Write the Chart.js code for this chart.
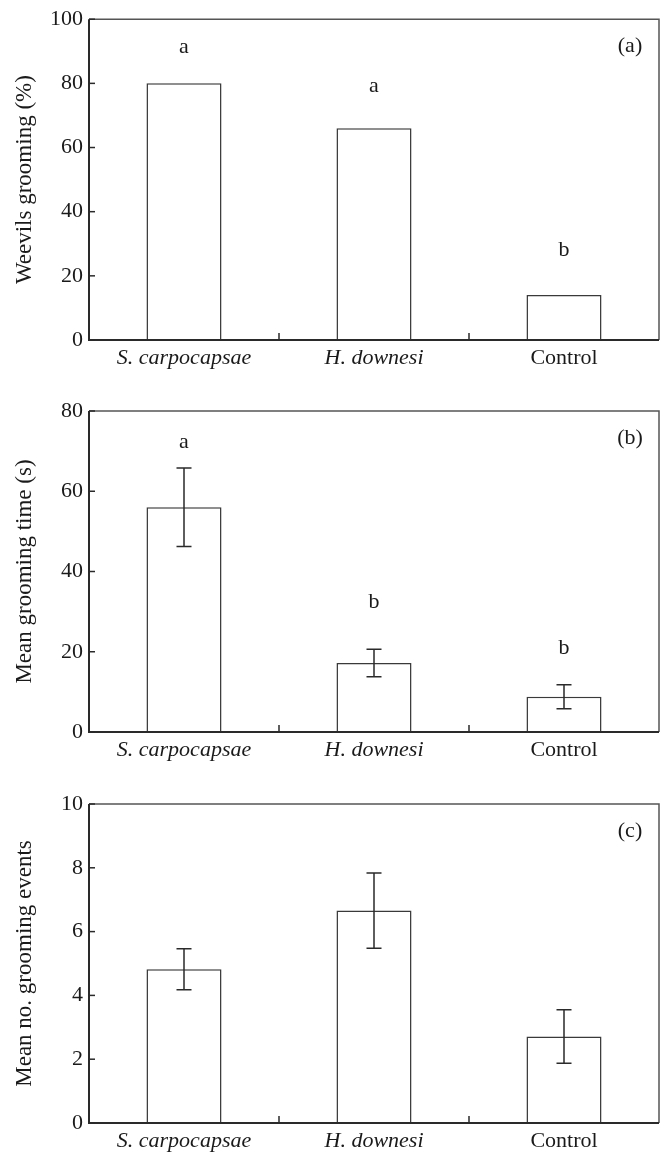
<!DOCTYPE html>
<html>
<head>
<meta charset="utf-8">
<script src="https://cdn.jsdelivr.net/npm/chart.js@4"></script>
<style>
  body { margin: 0; background: #fff; }
  .panel { position: absolute; left: 0; width: 664px; height: 384px; }
</style>
</head>
<body>
<div class="panel" style="top:0"><canvas id="chartA" width="664" height="384"></canvas></div>
<div class="panel" style="top:384px"><canvas id="chartB" width="664" height="384"></canvas></div>
<div class="panel" style="top:768px"><canvas id="chartC" width="664" height="384"></canvas></div>
<script>
const categories = ['S. carpocapsae', 'H. downesi', 'Control'];

// (a) weevils grooming (%)
const percentGrooming = [80, 66, 14];
const lettersA = ['a', 'a', 'b'];
const letterLevelsA = [91.4, 79, 27.9];

// (b) mean grooming time (s), +/- SE
const groomingTime = [56, 17.2, 8.8];
const groomingTimeErr = [9.8, 3.4, 3.0];
const lettersB = ['a', 'b', 'b'];
const letterLevelsB = [72.3, 32.3, 21];

// (c) mean number of grooming events, +/- SE
const groomingEvents = [4.82, 6.66, 2.71];
const groomingEventsErr = [0.64, 1.18, 0.84];

const FONT = "'Liberation Serif', 'Times New Roman', serif";
const INK = '#2a2a2a';

// frame, inward ticks, error bars, letters and panel tag
const decorations = {
  id: 'decorations',
  afterDatasetsDraw(chart, args, opts) {
    const ctx = chart.ctx;
    const area = chart.chartArea;
    const xs = chart.scales.x;
    const ys = chart.scales.y;
    const meta = chart.getDatasetMeta(0);
    ctx.save();
    ctx.strokeStyle = INK;

    // error bars
    if (opts.errors) {
      ctx.lineWidth = 1.5;
      meta.data.forEach((bar, i) => {
        const v = chart.data.datasets[0].data[i];
        const e = opts.errors[i];
        const yTop = ys.getPixelForValue(v + e);
        const yBot = ys.getPixelForValue(v - e);
        ctx.beginPath();
        ctx.moveTo(bar.x, yTop); ctx.lineTo(bar.x, yBot);
        ctx.moveTo(bar.x - 7.5, yTop); ctx.lineTo(bar.x + 7.5, yTop);
        ctx.moveTo(bar.x - 7.5, yBot); ctx.lineTo(bar.x + 7.5, yBot);
        ctx.stroke();
      });
    }

    // frame
    ctx.lineWidth = 1.5;
    ctx.strokeStyle = '#555';
    ctx.beginPath();
    ctx.moveTo(area.left, area.top); ctx.lineTo(area.right, area.top); ctx.lineTo(area.right, area.bottom);
    ctx.stroke();
    ctx.lineWidth = 2;
    ctx.strokeStyle = INK;
    ctx.beginPath();
    ctx.moveTo(area.left, area.top); ctx.lineTo(area.left, area.bottom); ctx.lineTo(area.right, area.bottom);
    ctx.stroke();

    // inward y ticks
    ctx.lineWidth = 1.5;
    ys.ticks.forEach(t => {
      const y = ys.getPixelForValue(t.value);
      ctx.beginPath(); ctx.moveTo(area.left, y); ctx.lineTo(area.left + 6, y); ctx.stroke();
    });
    // inward x ticks between categories
    for (let i = 1; i < categories.length; i++) {
      const x = (xs.getPixelForValue(i - 1) + xs.getPixelForValue(i)) / 2;
      ctx.beginPath(); ctx.moveTo(x, area.bottom); ctx.lineTo(x, area.bottom - 7); ctx.stroke();
    }

    // significance letters
    ctx.fillStyle = '#1a1a1a';
    ctx.font = '22px ' + FONT;
    ctx.textAlign = 'center';
    ctx.textBaseline = 'middle';
    if (opts.letters) {
      meta.data.forEach((bar, i) => {
        ctx.fillText(opts.letters[i], bar.x, ys.getPixelForValue(opts.letterLevels[i]));
      });
    }
    // panel tag
    ctx.fillText(opts.tag, area.right - 29, area.top + 27);
    ctx.restore();
  }
};

function makeChart(id, values, yMax, yStep, yTitle, topPad, xHeight, extra) {
  return new Chart(document.getElementById(id), {
    type: 'bar',
    data: {
      labels: categories,
      datasets: [{
        data: values,
        backgroundColor: '#ffffff',
        borderColor: '#3a3a3a',
        borderWidth: 1.5,
        categoryPercentage: 1,
        barPercentage: 0.395
      }]
    },
    options: {
      responsive: false,
      animation: false,
      layout: { padding: { top: topPad, right: 5, left: 0, bottom: 0 } },
      plugins: {
        legend: { display: false },
        tooltip: { enabled: false },
        decorations: extra
      },
      scales: {
        x: {
          grid: { display: false, drawTicks: false },
          border: { display: false },
          afterFit: s => { s.height = xHeight; },
          ticks: {
            padding: 5,
            color: '#1a1a1a',
            font: c => ({ family: FONT, size: 22, style: c.index < 2 ? 'italic' : 'normal' })
          }
        },
        y: {
          min: 0,
          max: yMax,
          grid: { display: false, drawTicks: false },
          border: { display: false },
          afterFit: s => { s.width = 89; },
          ticks: {
            stepSize: yStep,
            padding: 6,
            color: '#1a1a1a',
            font: { family: FONT, size: 22 }
          },
          title: {
            display: true,
            text: yTitle,
            color: '#1a1a1a',
            font: { family: FONT, size: 23 },
            padding: { top: 11, bottom: 0 }
          }
        }
      }
    },
    plugins: [decorations]
  });
}

makeChart('chartA', percentGrooming, 100, 20, 'Weevils grooming (%)', 18, 44,
  { tag: '(a)', letters: lettersA, letterLevels: letterLevelsA });
makeChart('chartB', groomingTime, 80, 20, 'Mean grooming time (s)', 27, 36,
  { tag: '(b)', letters: lettersB, letterLevels: letterLevelsB, errors: groomingTimeErr });
makeChart('chartC', groomingEvents, 10, 2, 'Mean no. grooming events', 36, 29,
  { tag: '(c)', errors: groomingEventsErr });
</script>
</body>
</html>
